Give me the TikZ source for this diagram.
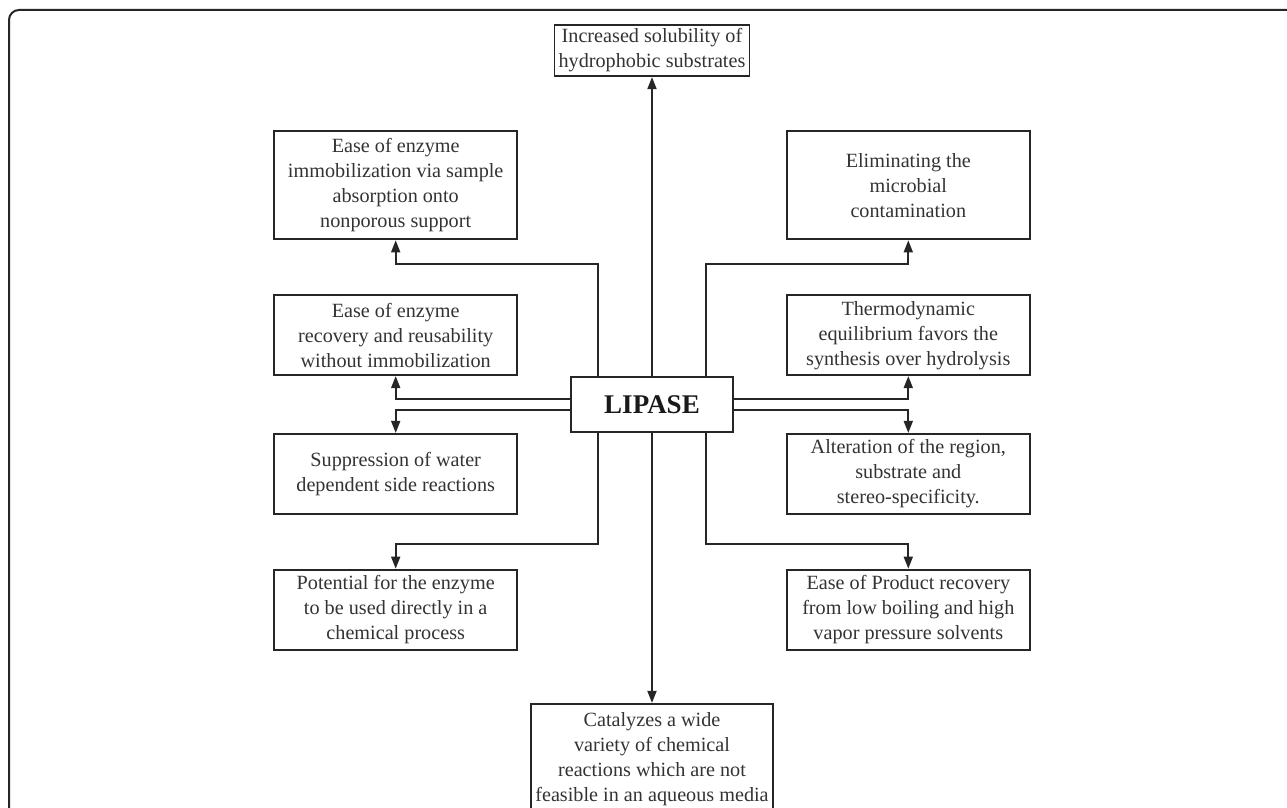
\documentclass[tikz,border=0pt]{standalone}
\usepackage{fontspec}
\setmainfont{Liberation Serif}
\usetikzlibrary{positioning,arrows.meta}
\begin{document}
\begin{tikzpicture}[x=0.5pt,y=-0.5pt,color=black!85,line width=0.9pt,
  >={Triangle[length=6pt,width=4.5pt]},
  box/.style={draw,align=center,text=black!80,
    font=\fontsize{10.1}{12.5}\selectfont,minimum width=121.5pt,minimum height=40pt,inner sep=2pt}]
\clip(0,0) rectangle (1287,808);
\draw[line width=1pt,rounded corners=5pt](9,10) rectangle (1320,840);
\node[box,minimum width=81pt,minimum height=27.5pt,font=\fontsize{13.5}{15}\bfseries\selectfont,text=black!90](LIPASE) at (652,404.5){LIPASE};
\node[box,above=149.5pt of LIPASE,minimum width=95pt,minimum height=25.5pt](TOP){Increased solubility of\\hydrophobic substrates};
\node[box,below=135pt of LIPASE,minimum width=121pt,minimum height=55.5pt](BOTTOM){Catalyzes a wide\\variety of chemical\\reactions which are not\\feasible in an aqueous media};
\node[box,above left=0pt and 26pt of LIPASE](LEFT2){Ease of enzyme\\recovery and reusability\\without immobilization};
\node[box,below left=0pt and 26pt of LIPASE](LEFT3){Suppression of water\\dependent side reactions};
\node[box,above=27pt of LEFT2,minimum height=54pt](LEFT1){Ease of enzyme\\immobilization via sample\\absorption onto\\nonporous support};
\node[box,below=27pt of LEFT3](LEFT4){Potential for the enzyme\\to be used directly in a\\chemical process};
\node[box,above right=0pt and 26pt of LIPASE](RIGHT2){Thermodynamic\\equilibrium favors the\\synthesis over hydrolysis};
\node[box,below right=0pt and 26pt of LIPASE](RIGHT3){Alteration of the region,\\substrate and\\stereo-specificity.};
\node[box,above=27pt of RIGHT2,minimum height=54pt](RIGHT1){Eliminating the\\microbial\\contamination};
\node[box,below=27pt of RIGHT3](RIGHT4){Ease of Product recovery\\from low boiling and high\\vapor pressure solvents};
% bends of the outer connectors
\coordinate(KL1) at (598,264);
\coordinate(KR1) at (706,264);
\coordinate(KL4) at (598,544);
\coordinate(KR4) at (706,544);
\draw[->](LIPASE.north)--(TOP.south);
\draw[->](LIPASE.south)--(BOTTOM.north);
\draw[->](LIPASE.north -| KL1)--(KL1) -| (LEFT1.south);
\draw[->]([yshift=2.75pt]LIPASE.west) -| (LEFT2.south);
\draw[->]([yshift=-2.75pt]LIPASE.west) -| (LEFT3.north);
\draw[->](LIPASE.south -| KL4)--(KL4) -| (LEFT4.north);
\draw[->](LIPASE.north -| KR1)--(KR1) -| (RIGHT1.south);
\draw[->]([yshift=2.75pt]LIPASE.east) -| (RIGHT2.south);
\draw[->]([yshift=-2.75pt]LIPASE.east) -| (RIGHT3.north);
\draw[->](LIPASE.south -| KR4)--(KR4) -| (RIGHT4.north);
\end{tikzpicture}
\end{document}
